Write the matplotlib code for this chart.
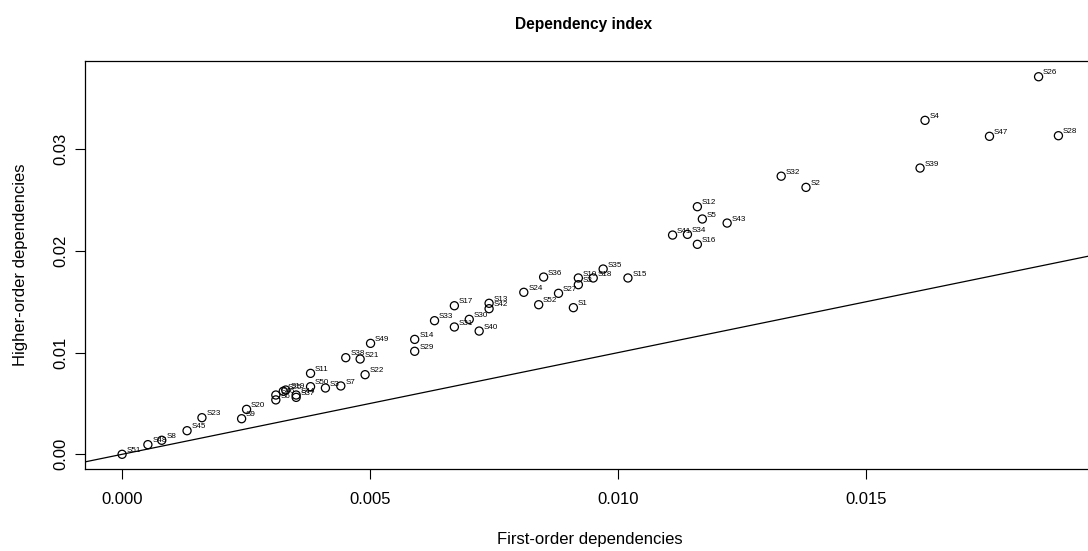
import matplotlib
matplotlib.use("Agg")
import matplotlib.pyplot as plt
from matplotlib.ticker import FixedLocator, FormatStrFormatter

plt.rcParams["font.family"] = ["Liberation Sans", "DejaVu Sans"]

# first-order vs higher-order dependency per sample
labels = ["S51", "S48", "S8", "S45", "S23", "S9", "S20", "S46", "S6", "S19",
          "S25", "S44", "S37", "S50", "S3", "S7", "S11", "S22", "S38", "S21",
          "S49", "S14", "S29", "S33", "S17", "S31", "S30", "S13", "S42", "S40",
          "S24", "S52", "S27", "S36", "S1", "S10", "S3", "S18", "S35", "S15",
          "S12", "S5", "S43", "S41", "S34", "S16", "S32", "S2", "S39", "S4",
          "S47", "S26", "S28"]
first_order = [0.0000, 0.00052, 0.0008, 0.00131, 0.00161, 0.00241, 0.00251, 0.0031, 0.0031, 0.0033,
               0.00325, 0.00351, 0.00351, 0.0038, 0.0041, 0.00441, 0.0038, 0.0049, 0.00451, 0.0048,
               0.00501, 0.0059, 0.0059, 0.0063, 0.0067, 0.0067, 0.0070, 0.0074, 0.0074, 0.0072,
               0.0081, 0.0084, 0.0088, 0.0085, 0.0091, 0.0092, 0.0092, 0.0095, 0.0097, 0.0102,
               0.0116, 0.0117, 0.0122, 0.0111, 0.0114, 0.0116, 0.01329, 0.01379, 0.01609, 0.01619,
               0.01749, 0.01848, 0.01888]
higher_order = [0.0000, 0.00095, 0.00138, 0.00232, 0.0036, 0.0035, 0.00442, 0.00583, 0.00535, 0.00632,
                0.0062, 0.00583, 0.0056, 0.00665, 0.00652, 0.00672, 0.00796, 0.00783, 0.0095, 0.00937,
                0.01091, 0.0113, 0.01013, 0.01314, 0.01461, 0.01252, 0.01327, 0.01485, 0.01432, 0.01212,
                0.01593, 0.01471, 0.01583, 0.01743, 0.01442, 0.01734, 0.01668, 0.01734, 0.01822, 0.01734,
                0.02435, 0.02314, 0.02274, 0.02156, 0.02163, 0.02065, 0.02735, 0.02625, 0.02815, 0.03284,
                0.03127, 0.03713, 0.03133]

x_ticks = [0.000, 0.005, 0.010, 0.015]
y_ticks = [0.00, 0.01, 0.02, 0.03]

fig = plt.figure(figsize=(10.88, 5.51), dpi=100)
# right edge of the frame falls just outside the picture, as in the original
ax = fig.add_axes([0.0778, 0.148, 0.9292, 0.7417])

ax.scatter(first_order, higher_order, s=34, facecolors="none", edgecolors="black",
           linewidths=0.9, zorder=3)
for lab, x, y in zip(labels, first_order, higher_order):
    ax.annotate(lab, (x, y), xytext=(3.2, 2.8), textcoords="offset points",
                fontsize=5.8, ha="left", va="center", color="black")

ax.axline((0, 0), slope=1, color="black", lw=0.9)

ax.set_xlim(-0.000755, 0.01963)
ax.set_ylim(-0.00149, 0.0387)
ax.xaxis.set_major_locator(FixedLocator(x_ticks))
ax.yaxis.set_major_locator(FixedLocator(y_ticks))
ax.xaxis.set_major_formatter(FormatStrFormatter("%.3f"))
ax.yaxis.set_major_formatter(FormatStrFormatter("%.2f"))
ax.tick_params(direction="out", length=7.5, width=0.8, labelsize=12)
ax.tick_params(axis="x", pad=8.5)
ax.tick_params(axis="y", pad=4.5)
for lab in ax.get_yticklabels():
    lab.set_rotation(90)
    lab.set_va("center")
for sp in ax.spines.values():
    sp.set_linewidth(0.9)

ax.set_xlabel("First-order dependencies", fontsize=12, labelpad=18)
ax.set_ylabel("Higher-order dependencies", fontsize=12, labelpad=18)
fig.text(0.536, 0.955, "Dependency index", ha="center", va="center",
         fontsize=11.2, fontweight="bold")

fig.savefig("out.png", dpi=100, facecolor="white")
